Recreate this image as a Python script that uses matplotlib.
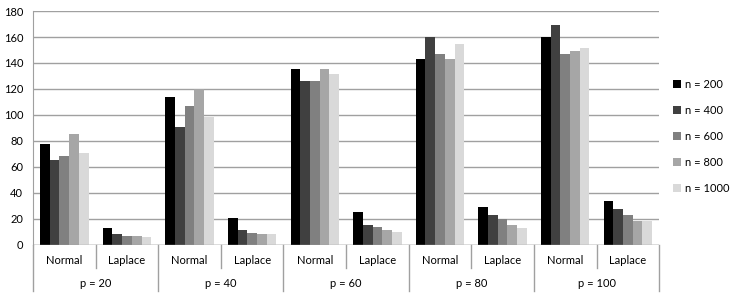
import matplotlib.pyplot as plt
import numpy as np

plt.rcParams["font.family"] = ["Lato", "DejaVu Sans"]

groups = ["p = 20", "p = 40", "p = 60", "p = 80", "p = 100"]
dists = ["Normal", "Laplace"]
series = ["n = 200", "n = 400", "n = 600", "n = 800", "n = 1000"]
colors = ["#000000", "#404040", "#808080", "#a6a6a6", "#d9d9d9"]

# values per series, ordered p=20 Normal, p=20 Laplace, p=40 Normal, ...
n200 = [77.5, 13, 113.5, 20.5, 135, 25, 143, 29, 160, 33.5]
n400 = [65, 8, 91, 11, 126.5, 15.5, 160, 22.5, 169.5, 27.5]
n600 = [68, 7, 107, 9, 126, 14, 147, 20, 147, 23]
n800 = [85.5, 7, 120, 8, 135, 11, 143, 15.5, 149.5, 18]
n1000 = [71, 6, 98.5, 8, 131.5, 10, 155, 12.5, 151.5, 18]
values = [n200, n400, n600, n800, n1000]

fig = plt.figure(figsize=(7.34, 2.95), dpi=100)
ax = fig.add_axes([0.045, 0.1705, 0.853, 0.792])

ncat = len(groups) * len(dists)
x = np.arange(ncat) + 0.5
w = 0.155
for i, (vals, c, lab) in enumerate(zip(values, colors, series)):
    ax.bar(x + (i - 2) * w, vals, w, color=c, label=lab, zorder=3)

ax.set_xlim(0, ncat)
ax.set_ylim(0, 180)
ax.set_yticks(range(0, 181, 20))
ax.yaxis.grid(True, color="#a0a0a0", linewidth=1.0, zorder=0)
ax.tick_params(axis="y", length=0, labelsize=8, pad=7)
ax.set_xticks([])
for s in ["top", "right", "bottom"]:
    ax.spines[s].set_visible(False)
ax.spines["left"].set_color("#a0a0a0")
ax.axhline(0, color="#a0a0a0", linewidth=1.0, zorder=4)

tr = ax.get_xaxis_transform()
for k in range(ncat + 1):
    if k % 2 == 0:
        ax.plot([k, k], [0, -0.2], color="#a0a0a0", lw=1.0, transform=tr, clip_on=False)
    else:
        ax.plot([k, k], [0, -0.1], color="#a0a0a0", lw=1.0, transform=tr, clip_on=False)
for k in range(ncat):
    ax.text(k + 0.5, -0.067, dists[k % 2], transform=tr, ha="center", va="center", fontsize=8)
for g, name in enumerate(groups):
    ax.text(2 * g + 1, -0.165, name, transform=tr, ha="center", va="center", fontsize=8)

ax.legend(loc="center left", bbox_to_anchor=(1.015, 0.465), frameon=False, fontsize=8,
          handlelength=0.75, handleheight=0.75, handletextpad=0.35, labelspacing=1.35,
          borderaxespad=0)

plt.savefig("out.png", dpi=100)
